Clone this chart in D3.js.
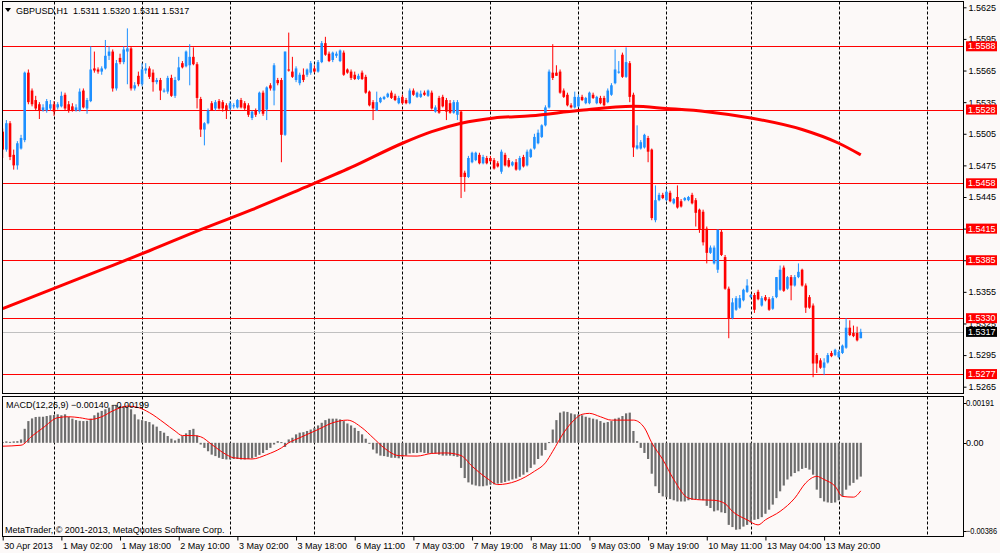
<!DOCTYPE html>
<html><head><meta charset="utf-8">
<script src="https://cdnjs.cloudflare.com/ajax/libs/d3/7.8.5/d3.min.js"></script>
<style>
html,body{margin:0;padding:0;background:#fcf9f8;}
svg{display:block;}
text{font-family:"Liberation Sans",Arial,sans-serif;font-size:9px;}
</style></head><body>
<svg id="c" width="1000" height="553"></svg>
<script>
const symbol = "GBPUSD,H1";
const opens=[1.5507,1.5490,1.5515,1.5485,1.5475,1.5491,1.5499,1.5563,1.5546,1.5537,
1.5533,1.5527,1.5527,1.5529,1.5533,1.5530,1.5531,1.5542,1.5533,1.5531,
1.5527,1.5527,1.5546,1.5529,1.5536,1.5567,1.5566,1.5564,1.5567,1.5579,
1.5583,1.5548,1.5577,1.5573,1.5583,1.5586,1.5548,1.5560,1.5552,1.5565,
1.5567,1.5563,1.5554,1.5556,1.5545,1.5545,1.5558,1.5541,1.5556,1.5572,
1.5569,1.5570,1.5578,1.5571,1.5538,1.5509,1.5515,1.5534,1.5529,1.5536,
1.5535,1.5532,1.5529,1.5531,1.5530,1.5537,1.5534,1.5532,1.5520,1.5527,
1.5526,1.5544,1.5528,1.5551,1.5546,1.5556,1.5556,1.5504,1.5566,1.5564,
1.5556,1.5553,1.5561,1.5561,1.5563,1.5567,1.5564,1.5573,1.5591,1.5581,
1.5575,1.5579,1.5574,1.5582,1.5566,1.5564,1.5561,1.5557,1.5563,1.5559,
1.5545,1.5535,1.5527,1.5535,1.5538,1.5540,1.5544,1.5541,1.5534,1.5540,
1.5537,1.5534,1.5546,1.5540,1.5540,1.5544,1.5541,1.5544,1.5526,1.5539,
1.5540,1.5537,1.5534,1.5525,1.5523,1.5526,1.5468,1.5464,1.5478,1.5480,
1.5485,1.5477,1.5482,1.5482,1.5480,1.5477,1.5469,1.5485,1.5480,1.5475,
1.5478,1.5471,1.5483,1.5475,1.5483,1.5491,1.5496,1.5502,1.5513,1.5530,
1.5563,1.5563,1.5564,1.5546,1.5542,1.5532,1.5530,1.5531,1.5540,1.5534,
1.5534,1.5542,1.5534,1.5539,1.5539,1.5535,1.5542,1.5553,1.5563,1.5580,
1.5559,1.5572,1.5542,1.5491,1.5491,1.5492,1.5501,1.5490,1.5423,1.5442,
1.5447,1.5442,1.5449,1.5439,1.5445,1.5441,1.5442,1.5442,1.5447,1.5442,
1.5433,1.5431,1.5415,1.5392,1.5382,1.5376,1.5412,1.5388,1.5358,1.5330,
1.5338,1.5340,1.5347,1.5355,1.5350,1.5352,1.5355,1.5342,1.5350,1.5348,
1.5339,1.5350,1.5357,1.5378,1.5358,1.5369,1.5361,1.5369,1.5376,1.5361,
1.5350,1.5342,1.5295,1.5290,1.5283,1.5288,1.5297,1.5295,1.5293,1.5297,
1.5302,1.5321,1.5316,1.5316,1.5311];
const highs=[1.5510,1.5518,1.5517,1.5490,1.5498,1.5504,1.5564,1.5566,1.5548,1.5541,
1.5535,1.5533,1.5538,1.5537,1.5536,1.5535,1.5545,1.5544,1.5536,1.5534,
1.5533,1.5548,1.5548,1.5539,1.5588,1.5583,1.5568,1.5569,1.5594,1.5588,
1.5585,1.5575,1.5581,1.5588,1.5605,1.5588,1.5554,1.5564,1.5572,1.5572,
1.5569,1.5566,1.5558,1.5558,1.5548,1.5560,1.5561,1.5559,1.5578,1.5574,
1.5584,1.5590,1.5587,1.5573,1.5540,1.5516,1.5529,1.5536,1.5537,1.5538,
1.5537,1.5534,1.5536,1.5534,1.5538,1.5539,1.5536,1.5534,1.5527,1.5529,
1.5545,1.5546,1.5550,1.5553,1.5572,1.5558,1.5558,1.5583,1.5601,1.5578,
1.5569,1.5563,1.5567,1.5567,1.5574,1.5570,1.5575,1.5593,1.5597,1.5583,
1.5583,1.5583,1.5585,1.5584,1.5567,1.5566,1.5564,1.5562,1.5565,1.5561,
1.5546,1.5537,1.5545,1.5540,1.5541,1.5544,1.5546,1.5543,1.5541,1.5542,
1.5539,1.5548,1.5548,1.5545,1.5546,1.5546,1.5547,1.5546,1.5532,1.5541,
1.5542,1.5539,1.5537,1.5537,1.5537,1.5527,1.5470,1.5484,1.5488,1.5488,
1.5487,1.5485,1.5484,1.5484,1.5482,1.5479,1.5490,1.5487,1.5482,1.5479,
1.5481,1.5484,1.5485,1.5490,1.5491,1.5505,1.5509,1.5514,1.5532,1.5566,
1.5590,1.5570,1.5566,1.5548,1.5544,1.5534,1.5545,1.5542,1.5542,1.5540,
1.5545,1.5544,1.5541,1.5541,1.5541,1.5548,1.5553,1.5585,1.5574,1.5582,
1.5587,1.5574,1.5544,1.5513,1.5499,1.5505,1.5503,1.5491,1.5456,1.5449,
1.5449,1.5452,1.5451,1.5444,1.5456,1.5443,1.5445,1.5446,1.5449,1.5444,
1.5434,1.5433,1.5417,1.5399,1.5399,1.5414,1.5414,1.5390,1.5360,1.5349,
1.5351,1.5352,1.5358,1.5367,1.5353,1.5354,1.5357,1.5351,1.5352,1.5350,
1.5351,1.5369,1.5380,1.5380,1.5370,1.5371,1.5371,1.5382,1.5377,1.5363,
1.5352,1.5344,1.5297,1.5292,1.5292,1.5297,1.5299,1.5301,1.5300,1.5305,
1.5330,1.5328,1.5323,1.5322,1.5320];
const lows=[1.5482,1.5488,1.5480,1.5471,1.5471,1.5490,1.5497,1.5533,1.5531,1.5527,
1.5519,1.5526,1.5525,1.5527,1.5522,1.5528,1.5530,1.5527,1.5525,1.5526,
1.5526,1.5526,1.5529,1.5524,1.5535,1.5563,1.5562,1.5561,1.5566,1.5575,
1.5545,1.5546,1.5571,1.5571,1.5552,1.5546,1.5546,1.5550,1.5550,1.5562,
1.5557,1.5545,1.5552,1.5537,1.5544,1.5543,1.5540,1.5539,1.5555,1.5567,
1.5568,1.5551,1.5570,1.5529,1.5502,1.5494,1.5514,1.5527,1.5527,1.5528,
1.5526,1.5519,1.5527,1.5529,1.5529,1.5529,1.5527,1.5521,1.5518,1.5521,
1.5524,1.5522,1.5518,1.5546,1.5532,1.5551,1.5478,1.5503,1.5564,1.5558,
1.5554,1.5551,1.5554,1.5559,1.5561,1.5563,1.5563,1.5572,1.5579,1.5573,
1.5573,1.5577,1.5573,1.5560,1.5562,1.5556,1.5556,1.5556,1.5556,1.5543,
1.5531,1.5518,1.5527,1.5534,1.5537,1.5539,1.5538,1.5536,1.5533,1.5533,
1.5533,1.5533,1.5541,1.5539,1.5539,1.5541,1.5540,1.5528,1.5525,1.5524,
1.5530,1.5518,1.5524,1.5524,1.5518,1.5444,1.5450,1.5463,1.5477,1.5479,
1.5476,1.5476,1.5476,1.5478,1.5471,1.5473,1.5467,1.5474,1.5473,1.5474,
1.5470,1.5470,1.5473,1.5474,1.5482,1.5490,1.5495,1.5501,1.5512,1.5529,
1.5556,1.5560,1.5543,1.5539,1.5531,1.5529,1.5529,1.5530,1.5536,1.5533,
1.5533,1.5538,1.5533,1.5533,1.5531,1.5534,1.5541,1.5552,1.5562,1.5558,
1.5558,1.5535,1.5483,1.5490,1.5490,1.5491,1.5478,1.5423,1.5421,1.5441,
1.5443,1.5441,1.5440,1.5438,1.5434,1.5435,1.5441,1.5441,1.5438,1.5417,
1.5411,1.5399,1.5382,1.5391,1.5381,1.5373,1.5389,1.5357,1.5311,1.5329,
1.5337,1.5339,1.5346,1.5354,1.5349,1.5335,1.5347,1.5341,1.5346,1.5337,
1.5338,1.5349,1.5356,1.5355,1.5357,1.5347,1.5360,1.5368,1.5360,1.5335,
1.5339,1.5274,1.5278,1.5282,1.5276,1.5287,1.5293,1.5294,1.5292,1.5296,
1.5301,1.5313,1.5312,1.5308,1.5311];
const closes=[1.5490,1.5515,1.5483,1.5475,1.5496,1.5501,1.5563,1.5535,1.5533,1.5529,
1.5527,1.5530,1.5536,1.5533,1.5526,1.5533,1.5541,1.5529,1.5527,1.5527,
1.5530,1.5545,1.5530,1.5537,1.5566,1.5565,1.5564,1.5567,1.5579,1.5583,
1.5548,1.5572,1.5573,1.5585,1.5586,1.5548,1.5551,1.5552,1.5566,1.5567,
1.5559,1.5554,1.5556,1.5546,1.5546,1.5558,1.5541,1.5556,1.5568,1.5568,
1.5583,1.5578,1.5571,1.5539,1.5509,1.5515,1.5527,1.5527,1.5535,1.5529,
1.5529,1.5527,1.5534,1.5532,1.5537,1.5530,1.5529,1.5523,1.5526,1.5523,
1.5544,1.5524,1.5549,1.5548,1.5570,1.5553,1.5504,1.5583,1.5565,1.5559,
1.5567,1.5561,1.5556,1.5566,1.5572,1.5564,1.5573,1.5591,1.5580,1.5574,
1.5582,1.5581,1.5584,1.5561,1.5563,1.5558,1.5557,1.5560,1.5557,1.5544,
1.5532,1.5529,1.5535,1.5539,1.5540,1.5543,1.5539,1.5537,1.5539,1.5534,
1.5534,1.5546,1.5542,1.5544,1.5543,1.5542,1.5546,1.5529,1.5530,1.5525,
1.5531,1.5526,1.5525,1.5535,1.5535,1.5464,1.5464,1.5482,1.5487,1.5487,
1.5477,1.5483,1.5477,1.5479,1.5472,1.5474,1.5488,1.5475,1.5474,1.5478,
1.5471,1.5482,1.5474,1.5488,1.5490,1.5502,1.5506,1.5513,1.5530,1.5564,
1.5558,1.5560,1.5544,1.5540,1.5532,1.5530,1.5540,1.5540,1.5537,1.5539,
1.5544,1.5539,1.5540,1.5534,1.5532,1.5546,1.5551,1.5566,1.5564,1.5559,
1.5573,1.5540,1.5492,1.5494,1.5497,1.5504,1.5488,1.5425,1.5442,1.5447,
1.5444,1.5450,1.5441,1.5443,1.5435,1.5436,1.5444,1.5445,1.5439,1.5430,
1.5414,1.5402,1.5392,1.5397,1.5397,1.5414,1.5390,1.5358,1.5330,1.5345,
1.5349,1.5349,1.5357,1.5361,1.5352,1.5338,1.5348,1.5349,1.5347,1.5338,
1.5349,1.5369,1.5376,1.5356,1.5369,1.5361,1.5369,1.5374,1.5361,1.5340,
1.5340,1.5287,1.5287,1.5283,1.5288,1.5295,1.5294,1.5300,1.5298,1.5304,
1.5321,1.5314,1.5313,1.5309,1.5317];

// 200-period moving average (read at sample bars)
const maIdx=[0,27,40,54,68,81,95,109,117,125,134,144,157,172,181,192,204,218,228,234];
const maVal=[1.5339,1.5376,1.5394,1.5414,1.5433,1.5452,1.5473,1.5496,1.5507,1.5515,1.5520,1.5522,1.5527,1.5531,1.5529,1.5526,1.5520,1.5509,1.5496,1.5485];

// MACD(12,26,9) main histogram per bar
const macdHist=[0.00003,0.00006,0.00004,0.00006,0.00007,0.00014,0.00058,0.00090,0.00101,0.00107,
0.00108,0.00108,0.00111,0.00114,0.00115,0.00118,0.00114,0.00118,0.00107,0.00100,
0.00094,0.00091,0.00090,0.00091,0.00100,0.00114,0.00125,0.00132,0.00139,0.00146,
0.00155,0.00157,0.00152,0.00152,0.00148,0.00139,0.00118,0.00097,0.00094,0.00090,
0.00086,0.00076,0.00067,0.00049,0.00042,0.00028,0.00017,0.00010,0.00017,0.00028,
0.00039,0.00053,0.00058,0.00030,-0.00007,-0.00021,-0.00035,-0.00049,-0.00055,-0.00062,
-0.00067,-0.00069,-0.00069,-0.00067,-0.00067,-0.00069,-0.00069,-0.00067,-0.00064,-0.00058,
-0.00050,-0.00042,-0.00030,-0.00021,-0.00007,0.00007,0.00003,-0.00017,0.00014,0.00021,
0.00035,0.00042,0.00044,0.00049,0.00055,0.00062,0.00072,0.00083,0.00094,0.00100,
0.00100,0.00100,0.00097,0.00090,0.00080,0.00072,0.00062,0.00049,0.00035,0.00017,
-0.00003,-0.00028,-0.00044,-0.00053,-0.00055,-0.00058,-0.00062,-0.00062,-0.00064,-0.00058,
-0.00053,-0.00044,-0.00042,-0.00042,-0.00039,-0.00042,-0.00044,-0.00044,-0.00044,-0.00049,
-0.00053,-0.00053,-0.00053,-0.00055,-0.00058,-0.00104,-0.00146,-0.00164,-0.00173,-0.00177,
-0.00180,-0.00180,-0.00177,-0.00173,-0.00172,-0.00169,-0.00166,-0.00162,-0.00157,-0.00152,
-0.00148,-0.00141,-0.00132,-0.00122,-0.00104,-0.00090,-0.00067,-0.00053,-0.00030,0.00003,
0.00055,0.00094,0.00125,0.00130,0.00128,0.00122,0.00118,0.00118,0.00114,0.00108,
0.00104,0.00100,0.00097,0.00090,0.00083,0.00086,0.00090,0.00100,0.00104,0.00111,
0.00122,0.00125,0.00049,0.00007,-0.00021,-0.00042,-0.00067,-0.00128,-0.00180,-0.00208,
-0.00222,-0.00225,-0.00233,-0.00238,-0.00243,-0.00243,-0.00243,-0.00238,-0.00236,-0.00233,
-0.00236,-0.00238,-0.00261,-0.00270,-0.00284,-0.00280,-0.00288,-0.00291,-0.00340,-0.00349,
-0.00360,-0.00358,-0.00347,-0.00340,-0.00330,-0.00319,-0.00316,-0.00308,-0.00294,-0.00277,
-0.00256,-0.00229,-0.00201,-0.00177,-0.00152,-0.00139,-0.00125,-0.00118,-0.00108,-0.00104,
-0.00111,-0.00132,-0.00194,-0.00229,-0.00243,-0.00247,-0.00249,-0.00247,-0.00238,-0.00222,
-0.00194,-0.00177,-0.00166,-0.00152,-0.00140];

// MACD signal line (read at sample bars)
const sigIdx=[0,5,8,11,15,18,21,24,27,30,34,37,40,44,47,49,52,54,57,61,63,68,72,76,78,81,86,90,94,98,101,104,108,113,117,121,125,128,132,135,140,145,148,150,153,156,158,160,163,166,169,172,175,177,180,183,187,190,194,197,199,203,206,208,212,216,219,222,224,227,229,232,234];
const sigVal=[-0.00014,-0.00010,0.00028,0.00062,0.00104,0.00108,0.00104,0.00097,0.00108,0.00132,
0.00152,0.00146,0.00125,0.00083,0.00049,0.00030,0.00030,0.00025,-0.00007,-0.00049,
-0.00062,-0.00067,-0.00049,-0.00021,0.00000,0.00021,0.00055,0.00083,0.00094,0.00062,
0.00021,-0.00021,-0.00053,-0.00055,-0.00044,-0.00042,-0.00053,-0.00097,-0.00146,-0.00173,
-0.00159,-0.00118,-0.00083,-0.00035,0.00042,0.00097,0.00118,0.00122,0.00108,0.00094,
0.00094,0.00094,0.00062,0.00000,-0.00069,-0.00152,-0.00229,-0.00236,-0.00238,-0.00252,
-0.00284,-0.00319,-0.00340,-0.00319,-0.00284,-0.00229,-0.00166,-0.00139,-0.00152,-0.00180,
-0.00222,-0.00225,-0.00199];

const priceTicks=[1.5625,1.5595,1.5565,1.5535,1.5505,1.5475,1.5445,1.5415,1.5385,1.5355,1.5325,1.5295,1.5265];
const levels=[1.5588,1.5528,1.5458,1.5415,1.5385,1.5330,1.5277];
const bidPrice=1.5317;
const macdTicks=[0.00191,0,-0.00386];
const dayBreaks=[14,38,62,85,109,133,157,181,204,228,252];
const timeIdx=[0,16,32,48,64,80,96,112,128,144,160,176,192,208,224];
const timeLabels=["30 Apr 2013","1 May 02:00","1 May 18:00","2 May 10:00","3 May 02:00","3 May 18:00","6 May 11:00","7 May 03:00","7 May 19:00","8 May 11:00","9 May 03:00","9 May 19:00","10 May 11:00","13 May 04:00","13 May 20:00"];

const svg=d3.select("#c");
const L=2.5,R=963.5,MT=1.5,MB=393.5,ST=396.5,SB=536.5;
const x=d3.scaleLinear().domain([0,262]).range([2.7,2.7+262*3.667]);
const y=d3.scaleLinear().domain([1.5265,1.5625]).range([386.7,7.3]);
const ym=d3.scaleLinear().domain([-0.00386,0.00191]).range([536,396.7]);
const f4=d3.format(".4f"), f5=d3.format(".5f");
const BULL="#1e90ff", BEAR="#ff0000";

svg.append("rect").attr("width",1000).attr("height",553).attr("fill","#fcf9f8");
const defs=svg.append("defs");
defs.append("clipPath").attr("id","cm").append("rect").attr("x",L).attr("y",MT).attr("width",R-L).attr("height",MB-MT);
defs.append("clipPath").attr("id","cs").append("rect").attr("x",L).attr("y",ST).attr("width",R-L).attr("height",SB-ST);

// day separators
const sep=svg.append("g").attr("stroke","#000").attr("stroke-width",1).attr("stroke-dasharray","3,2");
dayBreaks.filter(d=>x(d)<R).forEach(d=>{
  const xx=Math.round(x(d))+0.5;
  sep.append("line").attr("x1",xx).attr("x2",xx).attr("y1",MT).attr("y2",MB);
  sep.append("line").attr("x1",xx).attr("x2",xx).attr("y1",ST).attr("y2",SB);
});

const main=svg.append("g").attr("clip-path","url(#cm)");
// level lines
main.selectAll("line.lvl").data(levels).join("line").attr("class","lvl")
  .attr("x1",L).attr("x2",R).attr("y1",d=>Math.round(y(d))+0.5).attr("y2",d=>Math.round(y(d))+0.5)
  .attr("stroke","#ff0000").attr("stroke-width",1);
main.append("line").attr("x1",L).attr("x2",R).attr("y1",Math.round(y(bidPrice))+0.5).attr("y2",Math.round(y(bidPrice))+0.5)
  .attr("stroke","#c0c0c0").attr("stroke-width",1);

// candles
const bars=opens.map((o,i)=>({i,o,h:highs[i],l:lows[i],c:closes[i]}));
const cg=main.append("g");
cg.selectAll("rect.wick").data(bars).join("rect").attr("class","wick")
  .attr("x",d=>x(d.i)-0.5).attr("width",1)
  .attr("y",d=>y(d.h)).attr("height",d=>Math.max(1,y(d.l)-y(d.h)))
  .attr("fill",d=>d.c>=d.o?BULL:BEAR);
cg.selectAll("rect.body").data(bars).join("rect").attr("class","body")
  .attr("x",d=>x(d.i)-1.3).attr("width",2.6)
  .attr("y",d=>y(Math.max(d.o,d.c))).attr("height",d=>Math.max(1,Math.abs(y(d.o)-y(d.c))))
  .attr("fill",d=>d.c>=d.o?BULL:BEAR);

// moving average
const maPts=maIdx.map((d,k)=>[d,maVal[k]]);
main.append("path").datum(maPts)
  .attr("d",d3.line().x(d=>x(d[0])).y(d=>y(d[1])).curve(d3.curveMonotoneX))
  .attr("fill","none").attr("stroke","#ff0000").attr("stroke-width",3);

// MACD
const sub=svg.append("g").attr("clip-path","url(#cs)");
sub.selectAll("rect.h").data(macdHist).join("rect").attr("class","h")
  .attr("x",(d,i)=>x(i)-1.1).attr("width",2.2)
  .attr("y",d=>Math.min(ym(0),ym(d))).attr("height",d=>Math.max(1,Math.abs(ym(d)-ym(0))))
  .attr("fill","#6e6e6e");
const sigPts=sigIdx.map((d,k)=>[d,sigVal[k]]);
sub.append("path").datum(sigPts)
  .attr("d",d3.line().x(d=>x(d[0])).y(d=>ym(d[1])).curve(d3.curveMonotoneX))
  .attr("fill","none").attr("stroke","#ff0000").attr("stroke-width",1);

// borders
svg.append("rect").attr("x",L).attr("y",MT).attr("width",R-L).attr("height",MB-MT).attr("fill","none").attr("stroke","#000");
svg.append("rect").attr("x",L).attr("y",ST).attr("width",R-L).attr("height",SB-ST).attr("fill","none").attr("stroke","#000");

// price axis
const pa=svg.append("g").attr("transform",`translate(${R},0)`)
  .call(d3.axisRight(y).tickValues(priceTicks).tickSize(3).tickPadding(2).tickFormat(f4));
pa.select(".domain").remove();
pa.selectAll("text").attr("font-size",9).attr("font-family","Liberation Sans, Arial, sans-serif").attr("fill","#000");

// level labels
const lab=svg.append("g");
levels.forEach(v=>{
  const yy=y(v);
  lab.append("rect").attr("x",966).attr("y",yy-5).attr("width",31).attr("height",10).attr("fill","#ff0000");
  lab.append("text").attr("x",968).attr("y",yy).attr("dy","0.35em").attr("fill","#fff").text(f4(v));
});
{
  const yy=y(bidPrice);
  lab.append("rect").attr("x",966).attr("y",yy-5).attr("width",31).attr("height",10).attr("fill","#000");
  lab.append("text").attr("x",968).attr("y",yy).attr("dy","0.35em").attr("fill","#fff").text(f4(bidPrice));
}

// MACD axis
const ma=svg.append("g");
macdTicks.forEach(v=>{
  let yy=ym(v);
  if(v===macdTicks[0]) yy+=6.5;
  else if(v===macdTicks[2]) yy-=5.5;
  ma.append("line").attr("x1",R).attr("x2",R+3).attr("y1",Math.round(yy)+0.5).attr("y2",Math.round(yy)+0.5).attr("stroke","#000");
  const t=ma.append("text").attr("x",966).attr("y",yy).attr("dy","0.35em").attr("fill","#000")
    .attr("font-size",8.5).text(v===0?"0.00":f5(v));
  if(v<0) t.attr("textLength",31).attr("lengthAdjust","spacingAndGlyphs");
  else if(v>0) t.attr("textLength",28).attr("lengthAdjust","spacingAndGlyphs");
});

// time axis
const ta=svg.append("g").attr("transform",`translate(0,${SB})`)
  .call(d3.axisBottom(x).tickValues(timeIdx).tickSize(4).tickPadding(2).tickFormat((d,i)=>timeLabels[i]));
ta.select(".domain").remove();
ta.selectAll("text").attr("text-anchor","start").attr("dx",1).attr("font-size",9)
  .attr("font-family","Liberation Sans, Arial, sans-serif").attr("fill","#000");

// header texts
const last=opens.length-1;
svg.append("path").attr("d","M5,8 L11,8 L8,12 Z").attr("fill","#000");
svg.append("text").attr("x",16).attr("y",13.5).style("white-space","pre").attr("fill","#000")
  .text(`${symbol}  ${f4(opens[last])} ${f4(highs[last])} ${f4(lows[last])} ${f4(closes[last])}`);
svg.append("text").attr("x",6).attr("y",408).style("white-space","pre").attr("fill","#000")
  .text(`MACD(12,26,9) ${f5(macdHist[last])} ${f5(sigVal[sigVal.length-1])}`);
svg.append("text").attr("x",5).attr("y",533).attr("fill","#000")
  .text("MetaTrader, © 2001-2013, MetaQuotes Software Corp.");
</script>
</body></html>
